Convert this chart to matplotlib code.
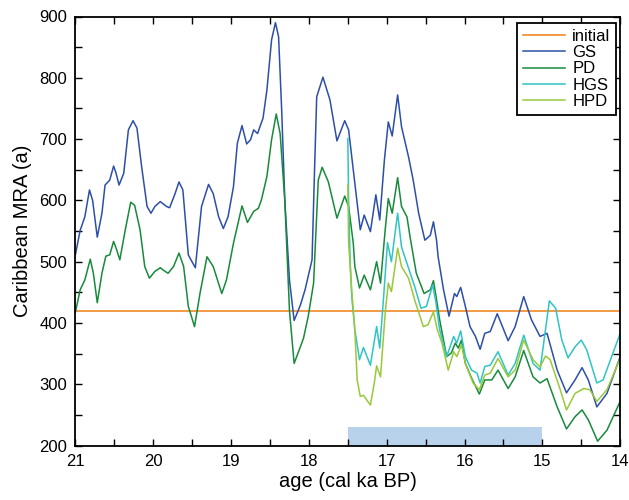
import numpy as np
import matplotlib.pyplot as plt
from matplotlib.ticker import MultipleLocator

plt.rcParams['font.family'] = ['Liberation Sans', 'DejaVu Sans']

# ---------------------------------------------
# data (age in cal ka BP)
# ---------------------------------------------
initial_mra = 420

gs_age = [21.0, 20.94, 20.88, 20.82, 20.78, 20.72, 20.66, 20.62, 20.56, 20.51, 20.48, 20.44,
          20.38, 20.32, 20.26, 20.21, 20.15, 20.08, 20.03, 19.98, 19.91, 19.83, 19.79, 19.72,
          19.67, 19.62, 19.55, 19.46, 19.38, 19.29, 19.23, 19.16, 19.10, 19.04, 18.97, 18.92,
          18.86, 18.80, 18.75, 18.71, 18.66, 18.63, 18.59, 18.54, 18.48, 18.43, 18.39, 18.35,
          18.31, 18.25, 18.19, 18.11, 18.05, 17.96, 17.93, 17.90, 17.82, 17.73, 17.64, 17.54,
          17.49, 17.41, 17.34, 17.29, 17.21, 17.14, 17.09, 17.03, 16.98, 16.93, 16.86, 16.81,
          16.72, 16.66, 16.59, 16.51, 16.44, 16.40, 16.36, 16.34, 16.27, 16.20, 16.13, 16.10,
          16.05, 15.99, 15.93, 15.86, 15.80, 15.74, 15.67, 15.58, 15.44, 15.35, 15.24, 15.14,
          15.03, 14.94, 14.81, 14.69, 14.58, 14.49, 14.41, 14.30, 14.17, 14.0]
gs_mra = [512, 551, 573, 617, 600, 540, 579, 625, 633, 656, 645, 625,
          644, 715, 730, 718, 655, 590, 579, 590, 598, 590, 588, 611,
          630, 617, 511, 490, 590, 626, 611, 573, 554, 573, 622, 693,
          722, 692, 699, 715, 709, 720, 734, 780, 862, 890, 867, 747,
          600, 470, 404, 429, 454, 503, 640, 769, 801, 764, 697, 730,
          715, 628, 552, 576, 549, 609, 568, 666, 728, 705, 772, 720,
          671, 633, 579, 535, 543, 565, 535, 508, 454, 411, 448, 443,
          458, 427, 394, 378, 357, 383, 386, 415, 371, 394, 443, 405,
          378, 383, 323, 286, 307, 327, 307, 263, 285, 345]

pd_age = [21.0, 20.98, 20.94, 20.88, 20.81, 20.77, 20.72, 20.66, 20.61, 20.56, 20.51, 20.47,
          20.43, 20.36, 20.29, 20.24, 20.17, 20.11, 20.05, 19.98, 19.91, 19.87, 19.81, 19.74,
          19.67, 19.61, 19.55, 19.47, 19.40, 19.31, 19.23, 19.12, 19.06, 18.97, 18.86, 18.79,
          18.71, 18.65, 18.61, 18.54, 18.48, 18.42, 18.37, 18.31, 18.25, 18.19, 18.11, 18.07,
          18.01, 17.94, 17.88, 17.83, 17.75, 17.64, 17.54, 17.49, 17.43, 17.41, 17.35, 17.29,
          17.21, 17.13, 17.08, 17.02, 16.98, 16.93, 16.86, 16.81, 16.74, 16.70, 16.62, 16.52,
          16.44, 16.40, 16.36, 16.32, 16.23, 16.17, 16.12, 16.08, 16.04, 15.99, 15.91, 15.81,
          15.74, 15.65, 15.57, 15.44, 15.35, 15.24, 15.12, 15.03, 14.94, 14.81, 14.69, 14.58,
          14.49, 14.41, 14.29, 14.17, 14.0]
pd_mra = [418, 430, 454, 470, 504, 481, 433, 481, 509, 511, 533, 519,
          503, 552, 597, 592, 552, 492, 473, 484, 490, 486, 481, 492,
          514, 492, 427, 394, 448, 508, 492, 448, 470, 530, 591, 564,
          582, 587, 601, 639, 699, 741, 709, 600, 420, 334, 361, 375,
          410, 465, 633, 654, 630, 571, 607, 590, 530, 492, 457, 478,
          454, 500, 465, 552, 603, 579, 637, 590, 573, 540, 481, 448,
          454, 469, 438, 405, 345, 351, 367, 359, 372, 334, 310, 284,
          307, 307, 323, 293, 312, 355, 312, 302, 309, 263, 227, 247,
          258, 242, 207, 225, 272]

hgs_age = [17.50, 17.49, 17.47, 17.45, 17.41, 17.35, 17.30, 17.21, 17.13, 17.09, 17.04, 16.99,
           16.94, 16.86, 16.81, 16.74, 16.64, 16.56, 16.49, 16.41, 16.37, 16.32, 16.23, 16.14,
           16.10, 16.05, 15.99, 15.91, 15.84, 15.80, 15.74, 15.67, 15.57, 15.44, 15.35, 15.24,
           15.12, 15.03, 14.96, 14.91, 14.83, 14.75, 14.67, 14.58, 14.50, 14.43, 14.30, 14.22, 14.0]
hgs_mra = [701, 600, 500, 443, 389, 340, 360, 331, 394, 359, 443, 531,
           500, 579, 524, 497, 459, 424, 427, 462, 435, 389, 345, 378,
           367, 387, 345, 323, 318, 302, 329, 331, 353, 315, 334, 380,
           334, 323, 389, 436, 424, 372, 343, 361, 372, 356, 302, 307, 383]

hpd_age = [17.50, 17.49, 17.45, 17.41, 17.38, 17.34, 17.30, 17.21, 17.16, 17.13, 17.08, 17.02,
           16.98, 16.94, 16.86, 16.81, 16.72, 16.64, 16.53, 16.47, 16.40, 16.35, 16.29, 16.21,
           16.14, 16.10, 16.04, 15.99, 15.89, 15.81, 15.74, 15.67, 15.57, 15.44, 15.35, 15.24,
           15.12, 15.03, 14.96, 14.90, 14.77, 14.69, 14.58, 14.47, 14.39, 14.30, 14.17, 14.0]
hpd_mra = [625, 530, 454, 389, 307, 280, 282, 266, 302, 330, 312, 416,
           465, 451, 522, 492, 473, 437, 394, 397, 418, 389, 367, 323,
           353, 345, 364, 334, 302, 291, 315, 318, 342, 312, 323, 372,
           340, 328, 346, 340, 291, 258, 285, 293, 291, 272, 291, 342]

# shaded interval at the bottom
bar_start, bar_end = 17.5, 15.0
bar_low, bar_high = 200, 230

# ---------------------------------------------
# plot
# ---------------------------------------------
fig = plt.figure(figsize=(6.29, 5.0), dpi=100)
ax = fig.add_axes([0.12, 0.109, 0.866, 0.858])

ax.axhline(initial_mra, color='#f07f13', lw=1.1, label='initial')
ax.plot(gs_age, gs_mra, color='#2d4fa8', lw=1.1, label='GS')
ax.plot(pd_age, pd_mra, color='#178a3c', lw=1.1, label='PD')
ax.plot(hgs_age, hgs_mra, color='#30c4c4', lw=1.1, label='HGS')
ax.plot(hpd_age, hpd_mra, color='#99c93a', lw=1.1, label='HPD')

ax.fill_between([bar_start, bar_end], bar_low, bar_high, color='#b8d2ec', lw=0)

ax.set_xlim(21, 14)
ax.set_ylim(200, 900)
ax.xaxis.set_major_locator(MultipleLocator(1))
ax.xaxis.set_minor_locator(MultipleLocator(0.5))
ax.yaxis.set_major_locator(MultipleLocator(100))
ax.yaxis.set_minor_locator(MultipleLocator(50))
ax.tick_params(which='both', direction='in', top=True, right=True, length=5, width=1,
               labelsize=12, pad=6)
for s in ax.spines.values():
    s.set_linewidth(1.3)

ax.set_xlabel('age (cal ka BP)', fontsize=14.5, labelpad=2)
ax.set_ylabel('Caribbean MRA (a)', fontsize=14.5, labelpad=5)

leg = ax.legend(loc='upper right', bbox_to_anchor=(0.993, 0.985), borderaxespad=0,
                fontsize=12, fancybox=False, framealpha=1, edgecolor='black',
                borderpad=0.35, labelspacing=0.08, handlelength=2.5, handletextpad=0.45)
leg.get_frame().set_linewidth(1.3)

fig.savefig('out.png', dpi=100)
